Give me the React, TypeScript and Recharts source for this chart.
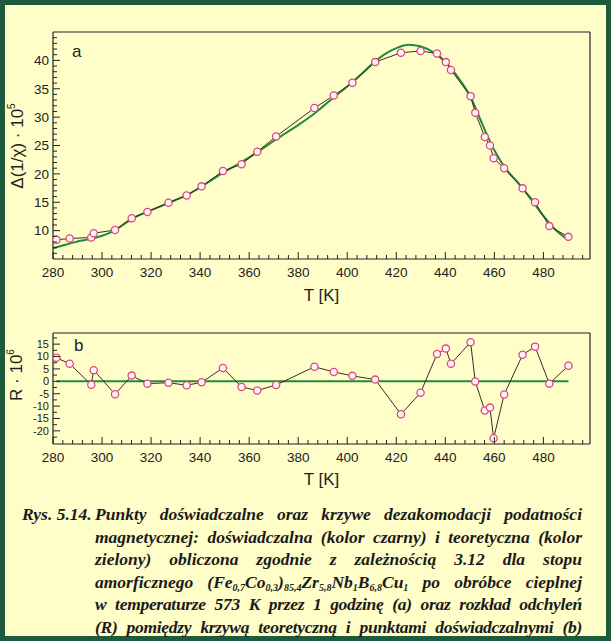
import { LineChart, Line, XAxis, YAxis } from "recharts"

// measured temperatures [K]
const temps = [
  281.4, 286.8, 295.6, 296.6, 305.3, 312.1, 318.5, 327.1, 334.5, 340.6, 349.3,
  356.9, 363.3, 371.0, 386.6, 394.5, 402.1, 411.4, 421.9, 429.9, 436.6, 440.2,
  442.3, 450.3, 452.2, 456.1, 458.2, 459.7, 464.0, 471.5, 476.6, 482.4, 490.2,
]

// experimental Δ(1/χ)·10^5
const chiExp = [
  8.4, 8.6, 8.8, 9.55, 10.1, 12.2, 13.3, 14.9, 16.2, 17.8, 20.5,
  21.7, 23.9, 26.6, 31.6, 33.8, 36.05, 39.7, 41.35, 41.65, 41.2, 39.7,
  38.3, 33.7, 30.75, 26.5, 25.0, 22.75, 21.0, 17.45, 15.0, 10.8, 8.9,
]

// residuals R·10^6
const residual = [
  9.5, 7.1, -1.4, 4.5, -5.2, 2.3, -0.95, -0.55, -1.6, -0.4, 5.4,
  -2.3, -3.7, -1.5, 5.85, 3.8, 2.2, 0.7, -13.3, -4.6, 11.0, 13.2,
  7.1, 15.8, -0.1, -11.8, -10.6, -23.0, -5.3, 10.7, 14.0, -0.95, 6.3,
]

// theoretical curve
const fitT = [
  280, 285, 290, 295, 300, 305, 310, 315, 320, 325, 330, 335, 340, 345, 350,
  355, 360, 365, 370, 375, 380, 385, 390, 395, 400, 405, 410, 415, 420, 425,
  430, 435, 440, 445, 450, 455, 460, 465, 470, 475, 480, 485, 490,
]
const fitChi = [
  6.9, 7.5, 8.1, 8.5, 9.1, 10.0, 11.45, 12.7, 13.6, 14.5, 15.4, 16.35, 17.6, 19.0, 20.4,
  21.6, 22.9, 24.3, 25.8, 27.2, 28.6, 30.1, 31.85, 33.65, 35.4, 37.3, 39.3, 41.0, 42.15, 42.75,
  42.45, 41.45, 39.7, 37.1, 33.8, 28.85, 24.15, 20.7, 18.3, 15.5, 12.6, 10.1, 8.4,
]

const zeroT = [281.4, 490.2]
const zeroR = [0, 0]

const tempLabels = [280, 300, 320, 340, 360, 380, 400, 420, 440, 460, 480]
const chiLabels = [10, 15, 20, 25, 30, 35, 40]
const resLabels = [-20, -15, -10, -5, 0, 5, 10, 15]

const expData = temps.map((t, i) => ({ t, chi: chiExp[i], r: residual[i] }))
const fitData = fitT.map((t, i) => ({ t, chi: fitChi[i] }))
const zeroData = zeroT.map((t, i) => ({ t, r: zeroR[i] }))

const range = (from: number, to: number, step: number) => {
  const out: number[] = []
  for (let v = from; v <= to + 1e-9; v += step) out.push(Math.round(v * 10) / 10)
  return out
}

const tempTicks = range(280, 496, 4)
const chiTicks = range(6, 44, 1)
const resTicks = range(-22.5, 17.5, 2.5)

const BG = "#fffdc8"
const BORDER = "#1d5b3c"
const INK = "#222"
const FONT = "'Liberation Sans', Arial, sans-serif"
const SERIF = "'Liberation Serif', 'Times New Roman', serif"
const GREEN = "#1f8a3e"
const PINK = "#e0487a"

function makeTick(side: "bottom" | "top" | "left" | "right", labels: number[], fontSize = 13.5) {
  return (props: any) => {
    const { x, y, payload } = props
    const v = payload.value
    const major = labels.includes(v)
    const len = major ? 7 : 4
    if (side === "bottom") {
      return (
        <g>
          <line x1={x} y1={y} x2={x} y2={y - len} stroke={INK} strokeWidth={1} />
          {major && (
            <text x={x} y={y + 18} textAnchor="middle" fontSize={fontSize} fill={INK} fontFamily={FONT}>
              {v}
            </text>
          )}
        </g>
      )
    }
    if (side === "top") {
      return <line x1={x} y1={y} x2={x} y2={y + len} stroke={INK} strokeWidth={1} />
    }
    if (side === "left") {
      return (
        <g>
          <line x1={x} y1={y} x2={x + len} y2={y} stroke={INK} strokeWidth={1} />
          {major && (
            <text x={x - 4} y={y + fontSize * 0.36} textAnchor="end" fontSize={fontSize} fill={INK} fontFamily={FONT}>
              {v}
            </text>
          )}
        </g>
      )
    }
    return <line x1={x} y1={y} x2={x - len} y2={y} stroke={INK} strokeWidth={1} />
  }
}

const dot = { r: 3.6, stroke: PINK, strokeWidth: 1.3, fill: "#fff8fb" }
const axisLine = { stroke: INK, strokeWidth: 1.2 }
const sub = { fontSize: 10, verticalAlign: -3, lineHeight: 0, fontFamily: SERIF }

const tempAxes = (labelOffset: number) => [
  <XAxis
    key="xb"
    xAxisId="b"
    dataKey="t"
    type="number"
    domain={[280, 499]}
    ticks={tempTicks}
    interval={0}
    height={40}
    tickSize={0}
    tickMargin={0}
    tickLine={false}
    axisLine={axisLine}
    tick={makeTick("bottom", tempLabels)}
    label={{ value: "T [K]", position: "insideBottom", offset: labelOffset, fontSize: 17, fill: INK, fontFamily: FONT }}
  />,
  <XAxis
    key="xt"
    xAxisId="t"
    orientation="top"
    dataKey="t"
    type="number"
    domain={[280, 499]}
    ticks={tempTicks}
    interval={0}
    height={10}
    tickSize={0}
    tickMargin={0}
    tickLine={false}
    axisLine={axisLine}
    tick={makeTick("top", tempLabels)}
  />,
]

const valueAxes = (domain: number[], ticks: number[], labels: number[], fontSize: number) => [
  <YAxis
    key="yl"
    yAxisId="l"
    type="number"
    domain={domain}
    ticks={ticks}
    interval={0}
    width={40}
    tickSize={0}
    tickMargin={0}
    tickLine={false}
    axisLine={axisLine}
    tick={makeTick("left", labels, fontSize)}
  />,
  <YAxis
    key="yr"
    yAxisId="r"
    orientation="right"
    type="number"
    domain={domain}
    ticks={ticks}
    interval={0}
    width={10}
    tickSize={0}
    tickMargin={0}
    tickLine={false}
    axisLine={axisLine}
    tick={makeTick("right", labels)}
  />,
]

export default function App() {
  return (
    <div
      style={{
        position: "absolute",
        left: 0,
        top: 0,
        width: 611,
        height: 641,
        boxSizing: "border-box",
        background: BG,
        border: `5px solid ${BORDER}`,
        fontFamily: FONT,
        color: INK,
      }}
    >
      {/* panel a */}
      <div style={{ position: "absolute", left: -5, top: -5 }}>
        <LineChart width={611} height={320} margin={{ top: 22, right: 11, bottom: 21, left: 13 }}>
          {tempAxes(-2)}
          {valueAxes([5, 45], chiTicks, chiLabels, 13.5)}
          <Line
            xAxisId="b"
            yAxisId="l"
            data={fitData}
            dataKey="chi"
            type="monotone"
            stroke={GREEN}
            strokeWidth={2}
            dot={false}
            isAnimationActive={false}
          />
          <Line
            xAxisId="b"
            yAxisId="l"
            data={expData}
            dataKey="chi"
            type="linear"
            stroke="#3b2b2b"
            strokeWidth={1}
            dot={dot}
            isAnimationActive={false}
          />
        </LineChart>
      </div>

      {/* panel b */}
      <div style={{ position: "absolute", left: -5, top: 295 }}>
        <LineChart width={611} height={200} margin={{ top: 23, right: 11, bottom: 16, left: 13 }}>
          {tempAxes(-1)}
          {valueAxes([-25.3, 19.5], resTicks, resLabels, 11)}
          <Line
            xAxisId="b"
            yAxisId="l"
            data={zeroData}
            dataKey="r"
            type="linear"
            stroke={GREEN}
            strokeWidth={2}
            dot={false}
            isAnimationActive={false}
          />
          <Line
            xAxisId="b"
            yAxisId="l"
            data={expData}
            dataKey="r"
            type="linear"
            stroke="#3b2b2b"
            strokeWidth={1}
            dot={dot}
            isAnimationActive={false}
          />
        </LineChart>
      </div>

      {/* axis titles and panel letters */}
      <div
        style={{
          position: "absolute",
          left: 16 - 5,
          top: 146 - 5,
          transform: "translate(-50%, -50%) rotate(-90deg)",
          whiteSpace: "nowrap",
          fontSize: 17,
          lineHeight: 1,
        }}
      >
        Δ(1/χ) · 10<sup style={{ fontSize: 10, verticalAlign: 8 }}>5</sup>
      </div>
      <div
        style={{
          position: "absolute",
          left: 15 - 5,
          top: 375 - 5,
          transform: "translate(-50%, -50%) rotate(-90deg)",
          whiteSpace: "nowrap",
          fontSize: 17,
          lineHeight: 1,
        }}
      >
        R · 10<sup style={{ fontSize: 10, verticalAlign: 8 }}>6</sup>
      </div>
      <div style={{ position: "absolute", left: 72 - 5, top: 43 - 5, fontSize: 17, lineHeight: 1 }}>a</div>
      <div style={{ position: "absolute", left: 74 - 5, top: 337 - 5, fontSize: 17, lineHeight: 1 }}>b</div>

      {/* caption */}
      <div
        style={{
          position: "absolute",
          left: 22 - 5,
          top: 503 - 5,
          width: 562,
          fontFamily: SERIF,
          fontWeight: "bold",
          fontStyle: "italic",
          fontSize: 17.5,
          lineHeight: "22.6px",
          color: "#1a1a1a",
        }}
      >
        <div style={{ position: "absolute", left: 0, top: 0, fontFamily: SERIF }}>Rys. 5.14.</div>
        <div style={{ position: "absolute", left: 73, top: 0, width: 487, fontFamily: SERIF }}>
          {[
            "Punkty doświadczalne oraz krzywe dezakomodacji podatności",
            "magnetycznej: doświadczalna (kolor czarny) i teoretyczna (kolor",
            "zielony) obliczona zgodnie z zależnością 3.12 dla stopu",
          ].map((line) => (
            <div key={line} style={{ textAlign: "justify", textAlignLast: "justify", height: 22.6, fontFamily: SERIF }}>
              {line}
            </div>
          ))}
          <div style={{ textAlign: "justify", textAlignLast: "justify", height: 22.6, fontFamily: SERIF }}>
            amorficznego (Fe<sub style={sub}>0,7</sub>Co<sub style={sub}>0,3</sub>)<sub style={sub}>85,4</sub>Zr
            <sub style={sub}>5,8</sub>Nb<sub style={sub}>1</sub>B<sub style={sub}>6,8</sub>Cu<sub style={sub}>1</sub> po
            obróbce cieplnej
          </div>
          {[
            "w temperaturze 573 K przez 1 godzinę (a) oraz rozkład odchyleń",
            "(R) pomiędzy krzywą teoretyczną i punktami doświadczalnymi (b)",
          ].map((line) => (
            <div
              key={line}
              style={{
                textAlign: "justify",
                textAlignLast: "justify",
                height: 22.6,
                whiteSpace: "nowrap",
                letterSpacing: -0.3,
                fontFamily: SERIF,
              }}
            >
              {line}
            </div>
          ))}
        </div>
      </div>
    </div>
  )
}
